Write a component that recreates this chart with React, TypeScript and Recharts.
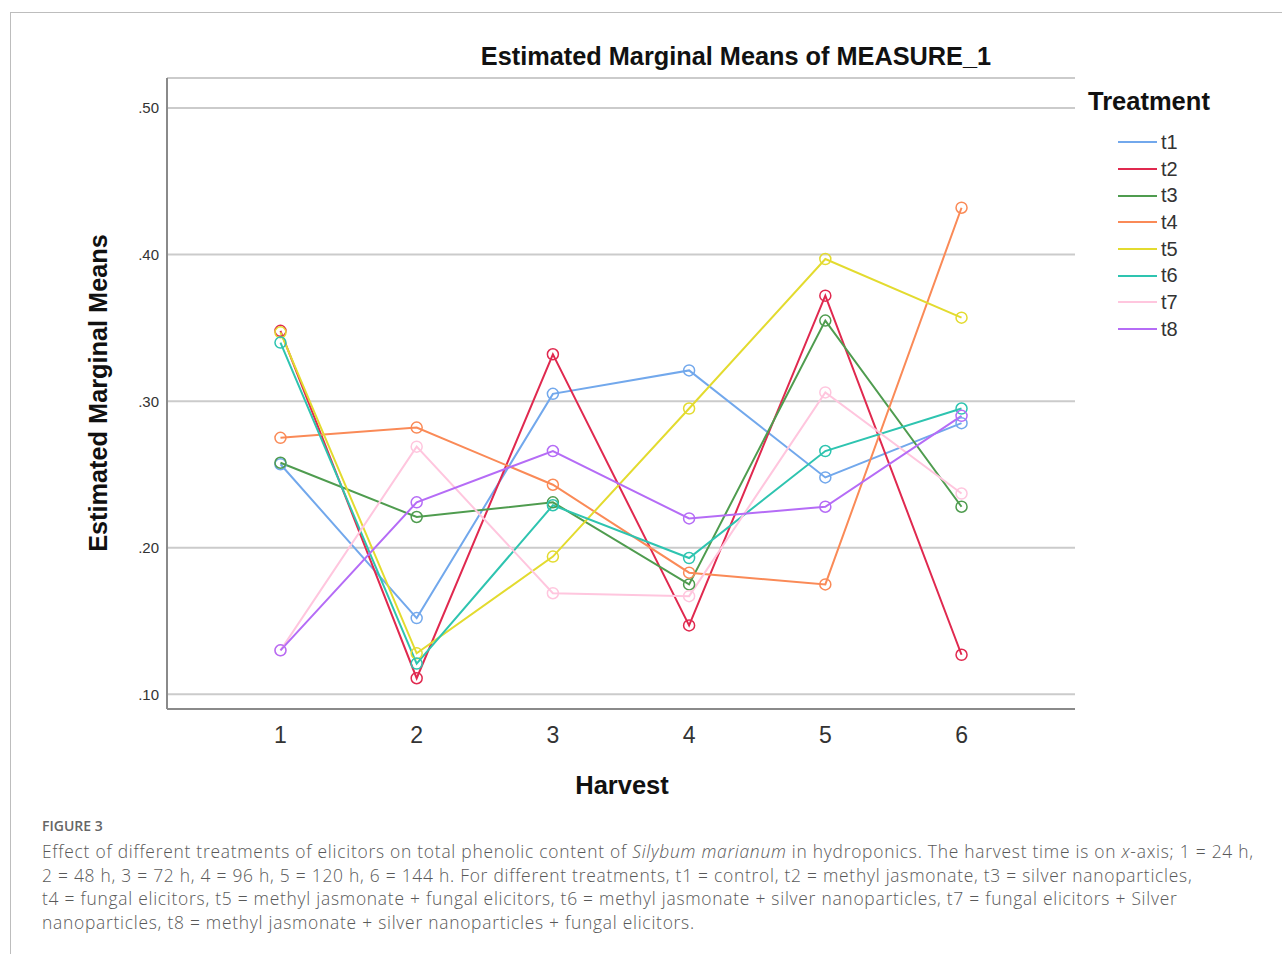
import React from 'react';
import { LineChart, Line, XAxis, YAxis, CartesianGrid } from 'recharts';

// harvest points on the x axis
const harvests = [1, 2, 3, 4, 5, 6];

// estimated marginal means per treatment
const t1 = [0.257, 0.152, 0.305, 0.321, 0.248, 0.285];
const t2 = [0.348, 0.111, 0.332, 0.147, 0.372, 0.127];
const t3 = [0.258, 0.221, 0.231, 0.175, 0.355, 0.228];
const t4 = [0.275, 0.282, 0.243, 0.183, 0.175, 0.432];
const t5 = [0.347, 0.128, 0.194, 0.295, 0.397, 0.357];
const t6 = [0.340, 0.121, 0.229, 0.193, 0.266, 0.295];
const t7 = [0.130, 0.269, 0.169, 0.167, 0.306, 0.237];
const t8 = [0.130, 0.231, 0.266, 0.220, 0.228, 0.290];

const yTicks = [0.1, 0.2, 0.3, 0.4, 0.5];

const treatments = [
  { key: 't1', values: t1, color: '#72a8ec' },
  { key: 't2', values: t2, color: '#e0294f' },
  { key: 't3', values: t3, color: '#4f9c4f' },
  { key: 't4', values: t4, color: '#fa8a57' },
  { key: 't5', values: t5, color: '#e3db2f' },
  { key: 't6', values: t6, color: '#2ec4b0' },
  { key: 't7', values: t7, color: '#ffc6de' },
  { key: 't8', values: t8, color: '#b56cf6' },
];

const data = harvests.map((h, i) => {
  const row: Record<string, number> = { harvest: h };
  treatments.forEach((t) => {
    row[t.key] = t.values[i];
  });
  return row;
});

const chartFont = '"Liberation Sans", Arial, sans-serif';

const LegendBox = () => (
  <div style={{ fontFamily: chartFont }}>
    <div style={{ fontSize: 25.5, fontWeight: 'bold', color: '#111', marginBottom: 13, lineHeight: '30px' }}>Treatment</div>
    {treatments.map((t) => (
      <div key={t.key} style={{ display: 'flex', alignItems: 'center', height: 26.7, paddingLeft: 30 }}>
        <div style={{ width: 39, height: 2, background: t.color, marginRight: 4 }} />
        <span style={{ fontSize: 20, color: '#333' }}>{t.key}</span>
      </div>
    ))}
  </div>
);

const App = () => {
  return (
    <div style={{ position: 'absolute', left: 0, top: 0, width: 1282, height: 954, background: '#fff', overflow: 'hidden' }}>
      <div
        style={{
          position: 'absolute',
          left: 10,
          top: 12,
          width: 1280,
          height: 950,
          borderTop: '1px solid #bdbdbd',
          borderLeft: '1px solid #bdbdbd',
        }}
      />
      <div
        style={{
          position: 'absolute',
          left: 0,
          width: 1472,
          top: 42,
          textAlign: 'center',
          fontFamily: chartFont,
          fontWeight: 'bold',
          fontSize: 25.3,
          color: '#111',
        }}
      >
        Estimated Marginal Means of MEASURE_1
      </div>
      <div
        style={{
          position: 'absolute',
          left: 98,
          top: 393,
          transform: 'translate(-50%, -50%) rotate(-90deg)',
          whiteSpace: 'nowrap',
          fontFamily: chartFont,
          fontWeight: 'bold',
          fontSize: 25.3,
          color: '#111',
        }}
      >
        Estimated Marginal Means
      </div>
      <div
        style={{
          position: 'absolute',
          left: 522,
          width: 200,
          top: 771,
          textAlign: 'center',
          fontFamily: chartFont,
          fontWeight: 'bold',
          fontSize: 25.5,
          color: '#111',
        }}
      >
        Harvest
      </div>
      <div style={{ position: 'absolute', left: 1088, top: 86, width: 190 }}>
        <LegendBox />
      </div>
      <div style={{ position: 'absolute', left: 0, top: 0 }}>
        <LineChart width={1282} height={800} data={data} margin={{ top: 78, right: 207, bottom: 51, left: 107 }}>
          <CartesianGrid horizontal vertical={false} stroke="#cbcbcb" strokeWidth={2} />
          <XAxis
            dataKey="harvest"
            type="number"
            domain={[0.167, 6.833]}
            ticks={harvests}
            allowDataOverflow
            height={40}
            tickLine={false}
            axisLine={{ stroke: '#8a8a8a', strokeWidth: 2 }}
            tick={{ fontSize: 23, fill: '#333', fontFamily: chartFont }}
            tickMargin={12}
          />
          <YAxis
            type="number"
            domain={[0.09, 0.5205]}
            ticks={yTicks}
            allowDataOverflow
            width={60}
            tickLine={false}
            axisLine={{ stroke: '#8a8a8a', strokeWidth: 2 }}
            tick={{ fontSize: 15, fill: '#333', fontFamily: chartFont }}
            tickFormatter={(v: number) => v.toFixed(2).replace(/^0/, '')}
          />
          {treatments.map((t) => (
            <Line
              key={t.key}
              dataKey={t.key}
              stroke={t.color}
              strokeWidth={2}
              dot={{ r: 5.5, stroke: t.color, strokeWidth: 1.5, fill: 'none' }}
              activeDot={false}
              isAnimationActive={false}
            />
          ))}
        </LineChart>
      </div>
      <div
        style={{
          position: 'absolute',
          left: 42,
          top: 816,
          fontFamily: '"Open Sans", sans-serif',
          color: '#595959',
        }}
      >
        <div style={{ fontSize: 14, fontWeight: 600, color: '#666', marginBottom: 5 }}>FIGURE 3</div>
        <div style={{ fontSize: 17.4, letterSpacing: 0.75, lineHeight: '23.7px', whiteSpace: 'nowrap', fontWeight: 300 }}>
          <div>
            Effect of different treatments of elicitors on total phenolic content of <i>Silybum marianum</i> in hydroponics. The harvest time is on <i>x</i>-axis; 1 = 24 h,
          </div>
          <div>
            2 = 48 h, 3 = 72 h, 4 = 96 h, 5 = 120 h, 6 = 144 h. For different treatments, t1 = control, t2 = methyl jasmonate, t3 = silver nanoparticles,
          </div>
          <div>
            t4 = fungal elicitors, t5 = methyl jasmonate + fungal elicitors, t6 = methyl jasmonate + silver nanoparticles, t7 = fungal elicitors + Silver
          </div>
          <div>nanoparticles, t8 = methyl jasmonate + silver nanoparticles + fungal elicitors.</div>
        </div>
      </div>
    </div>
  );
};

export default App;
